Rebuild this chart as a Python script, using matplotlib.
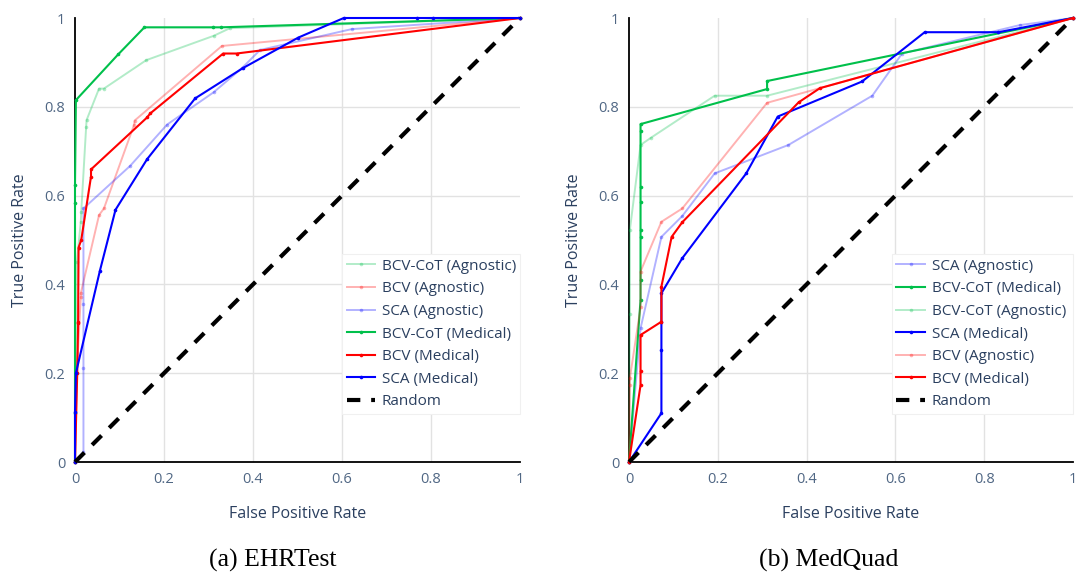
import matplotlib
matplotlib.use("Agg")
import matplotlib.pyplot as plt

plt.rcParams["font.family"] = ["Open Sans", "DejaVu Sans"]

TEXT = "#2a3f5f"
TICK = "#506784"
GREEN = "#00c04b"

# ---- EHRTest ROC points (FPR, TPR) ----
ehr_cot_agn_fpr = [0, 0.004, 0.013, 0.014, 0.025, 0.026, 0.054, 0.065, 0.160, 0.312, 0.348, 1]
ehr_cot_agn_tpr = [0, 0.450, 0.541, 0.563, 0.754, 0.770, 0.841, 0.841, 0.905, 0.960, 0.977, 1]
ehr_bcv_agn_fpr = [0, 0.004, 0.013, 0.013, 0.054, 0.065, 0.133, 0.134, 0.330, 1]
ehr_bcv_agn_tpr = [0, 0.200, 0.372, 0.380, 0.556, 0.571, 0.760, 0.769, 0.937, 1]
ehr_sca_agn_fpr = [0, 0.019, 0.019, 0.019, 0.019, 0.124, 0.207, 0.312, 0.375, 0.416, 0.622, 1]
ehr_sca_agn_tpr = [0, 0.023, 0.212, 0.356, 0.571, 0.667, 0.760, 0.833, 0.887, 0.928, 0.975, 1]
ehr_cot_med_fpr = [0, 0, 0, 0, 0.002, 0.097, 0.156, 0.309, 0.329, 1]
ehr_cot_med_tpr = [0, 0.110, 0.583, 0.624, 0.815, 0.918, 0.979, 0.979, 0.979, 1]
ehr_bcv_med_fpr = [0, 0.005, 0.007, 0.007, 0.008, 0.014, 0.036, 0.036, 0.162, 0.169, 0.333, 0.363, 1]
ehr_bcv_med_tpr = [0, 0.200, 0.312, 0.316, 0.483, 0.500, 0.643, 0.659, 0.776, 0.785, 0.920, 0.920, 1]
ehr_sca_med_fpr = [0, 0, 0.002, 0.056, 0.091, 0.162, 0.270, 0.377, 0.502, 0.604, 0.768, 0.805, 1]
ehr_sca_med_tpr = [0, 0.113, 0.200, 0.431, 0.568, 0.682, 0.819, 0.887, 0.956, 1.0, 1.0, 1.0, 1]

# ---- MedQuad ROC points (FPR, TPR) ----
mq_sca_agn_fpr = [0, 0.026, 0.073, 0.120, 0.193, 0.359, 0.548, 0.615, 0.880, 1]
mq_sca_agn_tpr = [0, 0.301, 0.507, 0.554, 0.650, 0.714, 0.825, 0.920, 0.984, 1]
mq_cot_med_fpr = [0, 0.026, 0.026, 0.026, 0.026, 0.026, 0.026, 0.026, 0.026, 0.311, 0.311, 1]
mq_cot_med_tpr = [0, 0.365, 0.411, 0.507, 0.523, 0.586, 0.619, 0.745, 0.761, 0.840, 0.858, 1]
mq_cot_agn_fpr = [0, 0.002, 0.002, 0.026, 0.049, 0.193, 0.311, 1]
mq_cot_agn_tpr = [0, 0.333, 0.523, 0.714, 0.730, 0.825, 0.825, 1]
mq_sca_med_fpr = [0, 0.073, 0.073, 0.073, 0.073, 0.120, 0.264, 0.335, 0.525, 0.666, 0.832, 1]
mq_sca_med_tpr = [0, 0.110, 0.252, 0.316, 0.380, 0.459, 0.650, 0.778, 0.857, 0.968, 0.968, 1]
mq_bcv_agn_fpr = [0, 0.002, 0.002, 0.026, 0.026, 0.073, 0.120, 0.311, 1]
mq_bcv_agn_tpr = [0, 0.173, 0.189, 0.348, 0.429, 0.541, 0.571, 0.809, 1]
mq_bcv_med_fpr = [0, 0.026, 0.026, 0.026, 0.073, 0.073, 0.096, 0.120, 0.382, 0.430, 1]
mq_bcv_med_tpr = [0, 0.173, 0.206, 0.286, 0.316, 0.395, 0.507, 0.540, 0.810, 0.842, 1]

ticks = [0, 0.2, 0.4, 0.6, 0.8, 1]
tick_labels = ["0", "0.2", "0.4", "0.6", "0.8", "1"]

STYLE = {
    "BCV-CoT (Agnostic)": dict(color=GREEN, alpha=0.3, lw=1.4),
    "BCV (Agnostic)": dict(color="red", alpha=0.3, lw=1.4),
    "SCA (Agnostic)": dict(color="blue", alpha=0.3, lw=1.4),
    "BCV-CoT (Medical)": dict(color=GREEN, alpha=1.0, lw=1.5),
    "BCV (Medical)": dict(color="red", alpha=1.0, lw=1.5),
    "SCA (Medical)": dict(color="blue", alpha=1.0, lw=1.5),
}

panels = [
    dict(rect=[75 / 1077, 112 / 574, 445 / 1077, 444 / 574],
         caption="(a) EHRTest", caption_x=273 / 1077, legend_x=0.60,
         series=[
             ("BCV-CoT (Agnostic)", ehr_cot_agn_fpr, ehr_cot_agn_tpr),
             ("BCV (Agnostic)", ehr_bcv_agn_fpr, ehr_bcv_agn_tpr),
             ("SCA (Agnostic)", ehr_sca_agn_fpr, ehr_sca_agn_tpr),
             ("BCV-CoT (Medical)", ehr_cot_med_fpr, ehr_cot_med_tpr),
             ("BCV (Medical)", ehr_bcv_med_fpr, ehr_bcv_med_tpr),
             ("SCA (Medical)", ehr_sca_med_fpr, ehr_sca_med_tpr),
         ]),
    dict(rect=[629 / 1077, 112 / 574, 444 / 1077, 444 / 574],
         caption="(b) MedQuad", caption_x=829 / 1077, legend_x=0.592,
         series=[
             ("SCA (Agnostic)", mq_sca_agn_fpr, mq_sca_agn_tpr),
             ("BCV-CoT (Medical)", mq_cot_med_fpr, mq_cot_med_tpr),
             ("BCV-CoT (Agnostic)", mq_cot_agn_fpr, mq_cot_agn_tpr),
             ("SCA (Medical)", mq_sca_med_fpr, mq_sca_med_tpr),
             ("BCV (Agnostic)", mq_bcv_agn_fpr, mq_bcv_agn_tpr),
             ("BCV (Medical)", mq_bcv_med_fpr, mq_bcv_med_tpr),
         ]),
]

fig = plt.figure(figsize=(10.77, 5.74), dpi=100)

for p in panels:
    ax = fig.add_axes(p["rect"])
    ax.set_xlim(0, 1)
    ax.set_ylim(0, 1)
    for v in ticks[1:-1]:
        ax.axvline(v, color="#e2e2e2", lw=1.0, zorder=0)
        ax.axhline(v, color="#e2e2e2", lw=1.0, zorder=0)
    for s in ["top", "right"]:
        ax.spines[s].set_visible(False)
    for s in ["left", "bottom"]:
        ax.spines[s].set_color("black")
        ax.spines[s].set_linewidth(1.3)
        ax.spines[s].set_zorder(1)
    ax.set_xticks(ticks)
    ax.set_xticklabels(tick_labels)
    ax.set_yticks(ticks)
    ax.set_yticklabels(tick_labels)
    ax.tick_params(length=0, pad=7, labelsize=10.5, labelcolor=TICK)

    handles = []
    for name, fpr, tpr in p["series"]:
        st = STYLE[name]
        h, = ax.plot(fpr, tpr, color=st["color"], alpha=st["alpha"], lw=st["lw"],
                     marker="o", markersize=2.6, markeredgewidth=0,
                     label=name, clip_on=False, zorder=3)
        handles.append(h)
    h, = ax.plot([0, 1], [0, 1], color="black", lw=3.0, ls=(0, (3.2, 2.6)),
                 label="Random", clip_on=False, zorder=4)
    handles.append(h)

    leg = ax.legend(handles=handles, loc="lower left",
                    bbox_to_anchor=(p["legend_x"], 0.108, 1.0 - p["legend_x"], 0.37),
                    mode="expand", borderaxespad=0, frameon=True, fancybox=False,
                    fontsize=11, labelcolor=TEXT, handlelength=1.85,
                    handletextpad=0.45, labelspacing=0.5, borderpad=0.3,
                    framealpha=1.0)
    leg.get_frame().set_edgecolor("#f0f0f0")
    leg.get_frame().set_linewidth(0.8)
    leg.set_zorder(5)

    ax.set_xlabel("False Positive Rate", fontsize=11.5, color=TEXT, labelpad=14)
    ax.set_ylabel("True Positive Rate", fontsize=11.5, color=TEXT, labelpad=12)

    fig.text(p["caption_x"], 14 / 574, p["caption"], ha="center", va="center",
             fontsize=18.5, family=["Liberation Serif", "DejaVu Serif"], color="black")

fig.savefig("out.png", dpi=100)
